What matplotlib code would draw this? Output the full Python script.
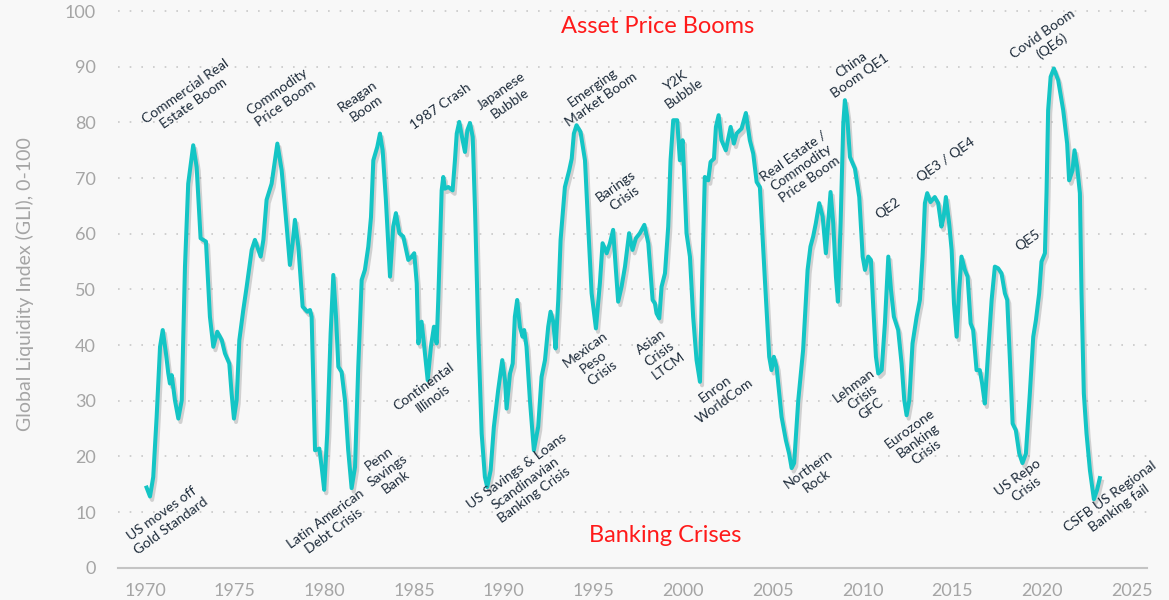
import matplotlib
matplotlib.use("Agg")
import matplotlib.pyplot as plt
import matplotlib.patheffects as pe

# Global Liquidity Index
years = [1970.09, 1970.28, 1970.46, 1970.65, 1970.84, 1970.99, 1971.17, 1971.30, 1971.39, 1971.49,
         1971.67, 1971.86, 1972.05, 1972.23, 1972.41, 1972.69, 1972.88, 1973.10, 1973.40, 1973.62,
         1973.81, 1974.03, 1974.28, 1974.46, 1974.70, 1974.83, 1974.96, 1975.11, 1975.26, 1975.48,
         1975.67, 1975.95, 1976.13, 1976.45, 1976.60, 1976.78, 1977.06, 1977.38, 1977.62, 1977.90,
         1978.08, 1978.23, 1978.36, 1978.55, 1978.79, 1979.05, 1979.20, 1979.29, 1979.48, 1979.72,
         1979.85, 1979.99, 1980.16, 1980.35, 1980.50, 1980.65, 1980.78, 1980.96, 1981.15, 1981.33,
         1981.52, 1981.71, 1981.89, 1982.08, 1982.26, 1982.45, 1982.60, 1982.73, 1982.95, 1983.10,
         1983.25, 1983.43, 1983.66, 1983.84, 1983.99, 1984.18, 1984.40, 1984.68, 1984.87, 1985.01,
         1985.15, 1985.24, 1985.42, 1985.57, 1985.76, 1985.94, 1986.11, 1986.26, 1986.35, 1986.54,
         1986.63, 1986.72, 1986.91, 1987.15, 1987.28, 1987.38, 1987.52, 1987.71, 1987.84, 1987.97,
         1988.12, 1988.27, 1988.40, 1988.58, 1988.77, 1988.95, 1989.08, 1989.27, 1989.45, 1989.69,
         1989.92, 1990.07, 1990.16, 1990.35, 1990.50, 1990.62, 1990.75, 1990.90, 1991.05, 1991.14,
         1991.27, 1991.46, 1991.68, 1991.92, 1992.11, 1992.30, 1992.48, 1992.61, 1992.76, 1992.89,
         1993.04, 1993.17, 1993.41, 1993.65, 1993.79, 1993.91, 1994.06, 1994.28, 1994.53, 1994.71,
         1994.90, 1995.14, 1995.36, 1995.51, 1995.74, 1995.92, 1996.10, 1996.24, 1996.38, 1996.57,
         1996.76, 1996.99, 1997.18, 1997.37, 1997.59, 1997.84, 1998.06, 1998.30, 1998.43, 1998.52,
         1998.67, 1998.80, 1998.99, 1999.17, 1999.30, 1999.45, 1999.67, 1999.82, 1999.97, 2000.04,
         2000.19, 2000.38, 2000.56, 2000.75, 2000.94, 2001.08, 2001.21, 2001.40, 2001.53, 2001.72,
         2001.83, 2001.98, 2002.14, 2002.38, 2002.65, 2002.83, 2002.98, 2003.26, 2003.50, 2003.72,
         2003.91, 2004.10, 2004.28, 2004.56, 2004.80, 2004.93, 2005.06, 2005.21, 2005.49, 2005.73,
         2005.91, 2006.05, 2006.19, 2006.42, 2006.69, 2006.94, 2007.10, 2007.25, 2007.40, 2007.59,
         2007.78, 2007.96, 2008.09, 2008.22, 2008.37, 2008.52, 2008.63, 2008.78, 2008.93, 2009.02,
         2009.15, 2009.30, 2009.58, 2009.82, 2010.01, 2010.14, 2010.32, 2010.47, 2010.60, 2010.75,
         2010.88, 2011.07, 2011.25, 2011.44, 2011.59, 2011.75, 2011.99, 2012.18, 2012.33, 2012.46,
         2012.61, 2012.79, 2013.02, 2013.20, 2013.35, 2013.48, 2013.61, 2013.79, 2014.03, 2014.22,
         2014.40, 2014.53, 2014.65, 2014.83, 2014.97, 2015.10, 2015.25, 2015.39, 2015.52, 2015.71,
         2015.86, 2016.03, 2016.17, 2016.36, 2016.54, 2016.67, 2016.82, 2017.00, 2017.20, 2017.38,
         2017.56, 2017.75, 2017.94, 2018.07, 2018.22, 2018.37, 2018.55, 2018.74, 2018.92, 2019.11,
         2019.33, 2019.52, 2019.67, 2019.85, 2019.98, 2020.17, 2020.26, 2020.35, 2020.49, 2020.67,
         2020.91, 2021.19, 2021.41, 2021.52, 2021.71, 2021.82, 2021.97, 2022.12, 2022.21, 2022.34,
         2022.49, 2022.68, 2022.90, 2023.08, 2023.23]
gli = [14.4, 12.8, 16.3, 27.1, 39.7, 42.7, 38.5, 34.9, 33.1, 34.6,
       30.1, 26.8, 30.1, 54.1, 69.0, 75.9, 72.0, 59.2, 58.6, 45.1,
       39.7, 42.4, 40.9, 38.5, 36.7, 31.3, 26.8, 30.1, 40.9, 46.3,
       50.5, 57.1, 58.9, 55.9, 58.9, 66.1, 69.0, 76.2, 71.4, 61.3,
       54.4, 58.3, 62.5, 57.7, 46.9, 46.0, 46.3, 45.1, 21.1, 21.4,
       18.1, 14.0, 24.1, 42.1, 52.6, 45.1, 36.1, 35.2, 30.1, 21.1,
       14.3, 18.1, 36.1, 51.7, 53.5, 57.7, 63.0, 73.2, 75.6, 78.0,
       75.0, 66.1, 52.3, 61.3, 63.7, 60.1, 59.5, 55.3, 55.9, 56.5,
       51.1, 40.3, 44.2, 39.7, 33.7, 39.7, 43.3, 40.3, 48.1, 67.8,
       70.2, 68.1, 68.4, 67.8, 73.2, 78.0, 80.1, 76.8, 74.7, 78.6,
       79.9, 77.4, 64.3, 42.1, 24.1, 16.3, 14.5, 17.5, 25.3, 31.9,
       37.3, 33.7, 28.6, 34.9, 36.7, 45.1, 48.1, 43.3, 41.5, 42.7,
       39.7, 30.1, 21.1, 25.3, 34.3, 37.3, 43.3, 46.0, 44.2, 39.4,
       48.1, 58.9, 68.4, 71.4, 73.5, 78.0, 79.5, 78.3, 73.2, 61.3,
       49.3, 43.0, 51.1, 58.3, 56.5, 58.3, 60.7, 54.1, 47.8, 50.5,
       54.1, 60.1, 57.1, 59.2, 60.1, 61.6, 58.3, 48.1, 47.5, 45.7,
       44.8, 50.5, 52.9, 61.3, 73.2, 80.4, 80.4, 73.2, 76.8, 72.0,
       60.1, 55.9, 45.1, 37.3, 33.4, 54.1, 70.2, 69.6, 72.9, 73.5,
       79.2, 81.3, 76.8, 75.0, 79.2, 76.2, 78.0, 78.9, 81.7, 76.8,
       74.4, 69.3, 68.4, 51.7, 37.9, 35.5, 37.9, 36.1, 27.1, 22.9,
       20.5, 17.9, 18.8, 30.1, 39.1, 53.5, 57.7, 59.5, 61.9, 65.5,
       63.1, 56.5, 61.9, 67.5, 61.9, 52.3, 47.8, 61.9, 79.8, 84.0,
       81.0, 73.8, 71.7, 66.6, 55.9, 53.5, 55.9, 55.3, 46.9, 37.9,
       34.9, 35.5, 43.9, 55.9, 49.9, 45.1, 42.7, 36.7, 30.1, 27.4,
       30.1, 40.3, 45.1, 48.1, 55.9, 65.5, 67.3, 65.7, 66.6, 65.5,
       61.3, 63.1, 66.6, 61.9, 57.1, 47.5, 41.5, 49.9, 55.9, 53.5,
       52.3, 43.9, 42.7, 35.5, 35.5, 33.1, 29.5, 38.5, 48.1, 54.1,
       53.8, 52.9, 49.3, 48.1, 37.3, 25.9, 24.7, 20.5, 18.8, 20.5,
       31.3, 41.5, 44.5, 49.3, 55.0, 56.5, 67.3, 82.2, 88.2, 89.7,
       87.6, 82.2, 76.2, 69.6, 71.4, 75.0, 72.0, 67.3, 49.3, 31.3,
       24.1, 17.5, 12.3, 14.0, 16.1]

# event labels: (text, year, level)
booms = [("Commercial Real\nEstate Boom", 1972.5, 84.5),
         ("Commodity\nPrice Boom", 1977.6, 84.5),
         ("Reagan\nBoom", 1982.1, 83.6),
         ("1987 Crash", 1986.5, 82.8),
         ("Japanese\nBubble", 1990.1, 84.5),
         ("Emerging\nMarket Boom", 1995.2, 85.1),
         ("Barings\nCrisis", 1996.5, 67.5),
         ("Y2K\nBubble", 1999.8, 86.3),
         ("Real Estate /\nCommodity\nPrice Boom", 2006.6, 71.8),
         ("China\nBoom QE1", 2009.6, 89.4),
         ("QE2", 2011.4, 64.6),
         ("QE3 / QE4", 2014.65, 73.2),
         ("QE5", 2019.2, 58.8),
         ("Covid Boom\n(QE6)", 2020.3, 94.8)]
crises = [("US moves off\nGold Standard", 1971.2, 8.6),
          ("Latin American\nDebt Crisis", 1980.3, 7.7),
          ("Penn\nSavings\nBank", 1983.5, 17.5),
          ("Continental\nIllinois", 1985.8, 31.4),
          ("US Savings & Loans\nScandinavian\nBanking Crisis", 1991.2, 15.2),
          ("Mexican\nPeso\nCrisis", 1995.0, 37.0),
          ("Asian\nCrisis\nLTCM", 1998.7, 38.4),
          ("Enron\nWorldCom", 2002.05, 31.0),
          ("Northern\nRock", 2007.2, 16.7),
          ("Lehman\nCrisis\nGFC", 2010.0, 30.6),
          ("Eurozone\nBanking\nCrisis", 2013.1, 22.9),
          ("US Repo\nCrisis", 2018.9, 15.2),
          ("CSFB US Regional\nBanking fail", 2024.05, 11.8)]

x_ticks = [1970, 1975, 1980, 1985, 1990, 1995, 2000, 2005, 2010, 2015, 2020, 2025]
y_ticks = [0, 10, 20, 30, 40, 50, 60, 70, 80, 90, 100]

plt.rcParams['font.family'] = ['Lato', 'DejaVu Sans']
bg = "#f8f8f8"
teal = "#14c5c5"
navy = "#1d2b3a"
grey = "#a5a5a5"

fig = plt.figure(figsize=(11.69, 6.0), dpi=100, facecolor=bg)
ax = fig.add_axes([0.101, 0.0538, 0.880, 0.9462])
ax.set_facecolor(bg)

ax.plot(years, gli, color=teal, lw=2.9, solid_joinstyle='round', zorder=3,
        path_effects=[pe.SimpleLineShadow(offset=(1.5, -2.5), shadow_color='#888888', alpha=0.35),
                      pe.Normal()])

ax.set_xlim(1968.5, 2025.85)
ax.set_ylim(0, 102)
ax.set_xticks(x_ticks)
ax.set_yticks(y_ticks)
ax.tick_params(length=0, labelsize=13, colors=grey)
ax.tick_params(axis='y', pad=16)
ax.tick_params(axis='x', pad=11)
for s in ['top', 'right', 'left']:
    ax.spines[s].set_visible(False)
ax.spines['bottom'].set_color('#c4c4c4')
ax.spines['bottom'].set_linewidth(1.5)
ax.yaxis.grid(True, color='#c8c8c8', linestyle=(0, (1, 6)), lw=1.2)
ax.set_axisbelow(True)
ax.set_ylabel("Global Liquidity Index (GLI), 0-100", color=grey, fontsize=14, labelpad=22)

for label, x, y in booms:
    ax.text(x, y, label, rotation=35, rotation_mode='anchor', ha='center', va='center',
            multialignment='center', fontsize=10, linespacing=1.25, color=navy, zorder=4)
for label, x, y in crises:
    ax.text(x, y, label, rotation=36, rotation_mode='anchor', ha='center', va='center',
            multialignment='center', fontsize=10, linespacing=1.25, color=navy, zorder=4,
            clip_on=False)

ax.text(1998.6, 97.3, "Asset Price Booms", color='#ff1a1a', fontsize=17, ha='center', va='center')
ax.text(1999.0, 5.7, "Banking Crises", color='#ff1a1a', fontsize=17, ha='center', va='center')

fig.savefig("out.png", dpi=100, facecolor=bg)
